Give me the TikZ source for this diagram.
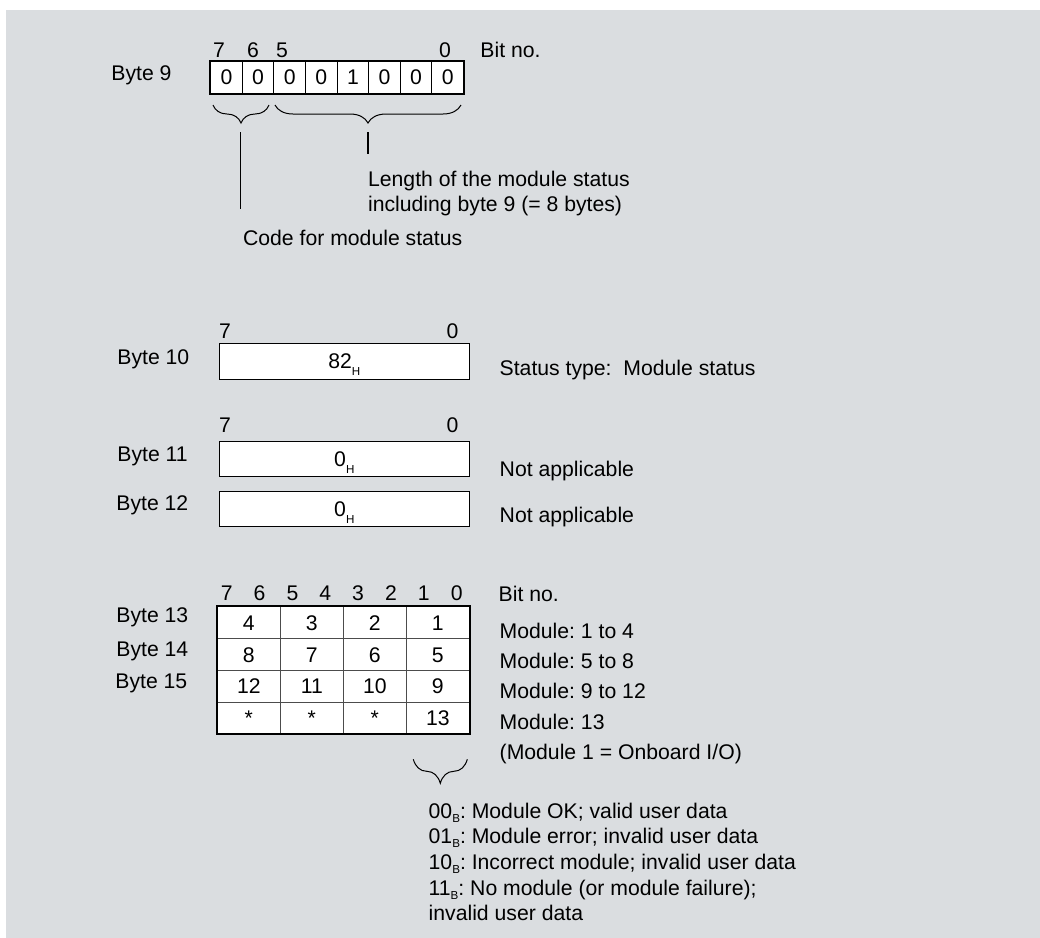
\documentclass[tikz,border=0pt]{standalone}
\usepackage{fontspec}
\setmainfont{Liberation Sans}
\usetikzlibrary{decorations.pathreplacing}
\definecolor{panelgray}{RGB}{218,221,224}
\newcommand{\lowsub}[2][-3.3pt]{\raisebox{#1}{\fontsize{5.8}{6}\selectfont #2}}
\frenchspacing

\begin{document}
\begin{tikzpicture}[x=0.5pt, y=-0.5pt,
    font=\fontsize{10.6}{12.8}\selectfont,
    lbl/.style={anchor=base west, inner sep=0pt},
    bitno/.style={anchor=base, inner sep=0pt},
    cell/.style={draw, line width=0.5pt, fill=white, inner sep=0pt, text height=7.6pt, text depth=0pt},
    wordbox/.style={cell, minimum width=125pt, minimum height=17.75pt},
    frame/.style={line width=1pt},
    curly/.style={decorate, decoration={brace, mirror, amplitude=#1}, line width=0.5pt},
    curly/.default=9pt,
    lead/.style={line width=0.6pt}]

    % panel
    \useasboundingbox (0,0) rectangle (1040,938);
    \fill[panelgray] (6,10) rectangle (1040,938);

    % Byte 9
    \node[lbl] (byte9) at (111,80) {Byte 9};
    \node[bitno] (b9n7) at (219,57.3) {7};
    \node[bitno] (b9n6) at (253,57.3) {6};
    \node[bitno] (b9n5) at (282,57.3) {5};
    \node[bitno] (b9n0) at (445,57.3) {0};
    \node[lbl] (bitno9) at (480,57.3) {Bit no.};
    \foreach \v [count=\i] in {0,0,0,0,1,0,0,0}
        \node[cell, minimum width=15.8pt, minimum height=16.15pt] (b9-\i) at ({226.5+(\i-1)*31.6},77.2) {\v};
    \draw[frame] (b9-1.north west) rectangle (b9-8.south east);

    % braces and leaders
    \draw[curly] (213,105) -- (269,105);
    \draw[curly] (275,105) -- (461,105);
    \coordinate (codetip) at (240.7,132);
    \coordinate (codeend) at (240.7,209);
    \coordinate (lentip) at (368,132);
    \coordinate (lenend) at (368,154);
    \draw[lead] (codetip) -- (codeend);
    \draw[lead] (lentip) -- (lenend);
    \node[lbl, align=left] (lentxt) at (367.7,211.7) {Length of the module status\\including byte 9 (= 8 bytes)};
    \node[lbl] (codetxt) at (242.7,245) {Code for module status};

    % Byte 10
    \node[bitno] (b10n7) at (225,338.3) {7};
    \node[bitno] (b10n0) at (452.5,338.3) {0};
    \node[lbl] (byte10) at (117,364.3) {Byte 10};
    \node[wordbox] (box10) at (344.3,361.3) {82\lowsub{H}};
    \node[lbl] (type10) at (499.3,375) {Status type:\ \ Module status};

    % Byte 11 and 12
    \node[bitno] (b11n7) at (225,432.7) {7};
    \node[bitno] (b11n0) at (452.5,432.7) {0};
    \node[lbl] (byte11) at (117,461.7) {Byte 11};
    \node[wordbox] (box11) at (344.3,459.2) {0\lowsub{H}};
    \node[lbl] (na11) at (499.3,476) {Not applicable};
    \node[lbl] (byte12) at (116,510.7) {Byte 12};
    \node[wordbox] (box12) at (344.3,509.2) {0\lowsub{H}};
    \node[lbl] (na12) at (499.3,522.3) {Not applicable};

    % Byte 13 to 15
    \foreach \b [count=\i] in {7,6,...,0}
        \node[bitno] (tn\b) at ({226.7+(\i-1)*32.86},600) {\b};
    \node[lbl] (bitno13) at (498.3,601.7) {Bit no.};
    \node[lbl] (byte13) at (116,622.7) {Byte 13};
    \node[lbl] (byte14) at (116,656.7) {Byte 14};
    \node[lbl] (byte15) at (115,688.3) {Byte 15};
    \foreach \row [count=\r] in {{4,3,2,1},{8,7,6,5},{12,11,10,9},{*,*,*,13}}
        \foreach \v [count=\c] in \row
            \node[cell, draw=black!70, minimum width=31.5pt, minimum height=15.9pt] (t-\r-\c) at ({248.8+(\c-1)*63},{622.6+(\r-1)*31.8}) {\v};
    \draw[frame] (t-1-1.north west) rectangle (t-4-4.south east);
    \foreach \t [count=\i] in {Module: 1 to 4,Module: 5 to 8,Module: 9 to 12,Module: 13,(Module 1 = Onboard I/O)}
        \node[lbl] (mod\i) at (499.3,{638.3+(\i-1)*30.25}) {\t};

    % status bits
    \draw[curly=12pt] (413.3,759.3) -- (467.3,759.3);
    \node[lbl, align=left] (codes) at (428.3,920.7) {00\lowsub[-2pt]{B}: Module OK; valid user data\\
        01\lowsub[-2pt]{B}: Module error; invalid user data\\
        10\lowsub[-2pt]{B}: Incorrect module; invalid user data\\
        11\lowsub[-2pt]{B}: No module (or module failure);\\
        invalid user data};
\end{tikzpicture}
\end{document}
